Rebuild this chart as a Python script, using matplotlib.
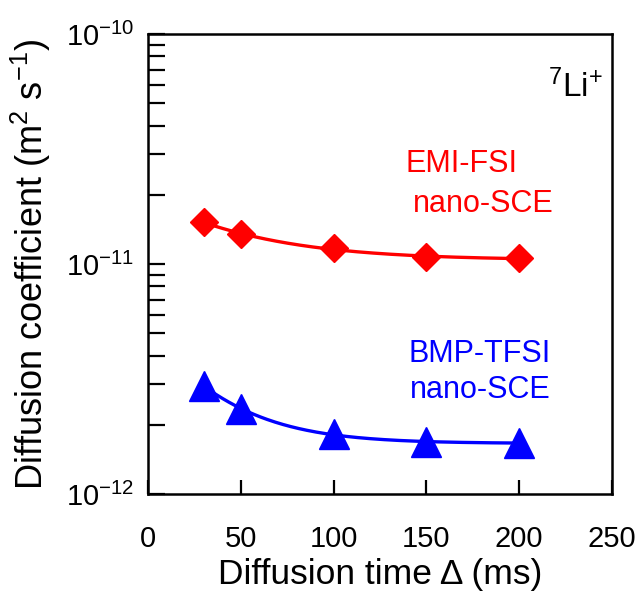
import numpy as np
import matplotlib
matplotlib.use("Agg")
import matplotlib.pyplot as plt
from matplotlib.ticker import LogLocator, NullFormatter, FixedLocator

plt.rcParams['font.family'] = ['Liberation Sans', 'DejaVu Sans']
plt.rcParams['mathtext.fontset'] = 'custom'
plt.rcParams['mathtext.rm'] = 'Liberation Sans'
plt.rcParams['mathtext.it'] = 'Liberation Sans'

# diffusion time (ms) and diffusion coefficients (m2/s)
delta_ms = [30, 50, 100, 150, 200]
d_emi_fsi = [1.52e-11, 1.35e-11, 1.17e-11, 1.07e-11, 1.06e-11]
d_bmp_tfsi = [2.95e-12, 2.35e-12, 1.82e-12, 1.69e-12, 1.66e-12]


def decay_fit(t, d):
    # D(t) = a + b*exp(-t/tau), tau by grid search, a and b by least squares
    t = np.asarray(t, float)
    d = np.asarray(d, float)
    best = None
    for tau in np.linspace(5, 300, 600):
        A = np.column_stack([np.ones_like(t), np.exp(-t / tau)])
        coef, *_ = np.linalg.lstsq(A, d, rcond=None)
        err = np.sum((A @ coef - d) ** 2)
        if best is None or err < best[0]:
            best = (err, tau, coef)
    _, tau, coef = best
    tt = np.linspace(t.min(), t.max(), 200)
    return tt, coef[0] + coef[1] * np.exp(-tt / tau)


fig = plt.figure(figsize=(6.44, 5.97), dpi=100)
ax = fig.add_axes([0.2298, 0.1725, 0.7205, 0.7705])

tt, ff = decay_fit(delta_ms, d_emi_fsi)
ax.plot(tt, ff, color='#ff0000', lw=2.4)
ax.plot(delta_ms, d_emi_fsi, 'D', color='#ff0000', ms=14, mec='#ff0000')

tt, ff = decay_fit(delta_ms, d_bmp_tfsi)
ax.plot(tt, ff, color='#0000ff', lw=2.4)
ax.plot(delta_ms, d_bmp_tfsi, '^', color='#0000ff', ms=22, mec='#0000ff')

ax.set_yscale('log')
ax.set_ylim(1e-12, 1e-10)
ax.set_xlim(0, 250)

ax.yaxis.set_major_locator(FixedLocator([1e-12, 1e-11, 1e-10]))
ax.set_yticklabels(['10$^{-12}$', '10$^{-11}$', '10$^{-10}$'])
ax.yaxis.set_minor_locator(LogLocator(base=10, subs=np.arange(2, 10)))
ax.yaxis.set_minor_formatter(NullFormatter())
ax.set_xticks([0, 50, 100, 150, 200, 250])

ax.tick_params(axis='both', which='both', direction='in', width=1.6,
               top=False, right=False, labelsize=21, colors='black')
ax.tick_params(axis='y', which='major', length=12, pad=10)
ax.tick_params(axis='y', which='minor', length=12)
ax.tick_params(axis='x', which='major', length=10, pad=22)
for s in ax.spines.values():
    s.set_linewidth(1.8)

ax.set_xlabel('Diffusion time \u0394 (ms)', fontsize=25.5, labelpad=4)
ax.set_ylabel('Diffusion coefficient (m$^2$ s$^{-1}$)', fontsize=26, labelpad=9)

ax.text(245, 5.3e-11, '$^{7}$Li$^{+}$', fontsize=24, ha='right', va='baseline')
ax.text(138.5, 2.51e-11, 'EMI-FSI', color='#ff0000', fontsize=22, ha='left', va='baseline')
ax.text(142.8, 1.68e-11, 'nano-SCE', color='#ff0000', fontsize=22, ha='left', va='baseline')
ax.text(140.1, 3.75e-12, 'BMP-TFSI', color='#0000ff', fontsize=22, ha='left', va='baseline')
ax.text(141.2, 2.61e-12, 'nano-SCE', color='#0000ff', fontsize=22, ha='left', va='baseline')

fig.savefig('out.png', dpi=100)
